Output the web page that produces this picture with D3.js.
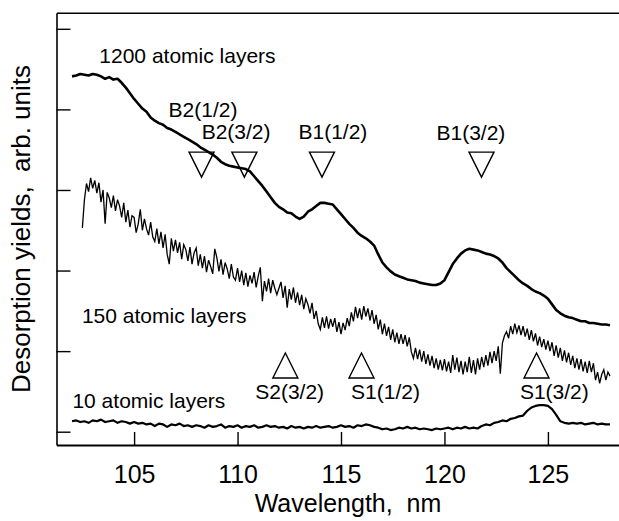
<!DOCTYPE html>
<html><head><meta charset="utf-8">
<script src="https://cdn.jsdelivr.net/npm/d3@7"></script>
<style>
html,body{margin:0;padding:0;background:#fff;}
svg{display:block;font-family:"Liberation Sans",Arial,Helvetica,sans-serif;}
</style>
</head><body>
<svg id="chart" width="619" height="521"></svg>
<script>
// ---------- data ----------
const xTicks = [105, 110, 115, 120, 125];
const yTicks = [0, 1, 2, 3, 4, 5];
const xTitle = "Wavelength,  nm";
const yTitle = "Desorption yields,  arb. units";

// wavelength grid (nm) for the 1200- and 10-layer spectra
const wlCoarse = [
102.0,102.2,102.4,102.6,102.8, 103.0,103.2,103.4,103.6,103.8,
104.0,104.2,104.4,104.6,104.8, 105.0,105.2,105.4,105.6,105.8,
106.0,106.2,106.4,106.6,106.8, 107.0,107.2,107.4,107.6,107.8,
108.0,108.2,108.4,108.6,108.8, 109.0,109.2,109.4,109.6,109.8,
110.0,110.2,110.4,110.6,110.8, 111.0,111.2,111.4,111.6,111.8,
112.0,112.2,112.4,112.6,112.8, 113.0,113.2,113.4,113.6,113.8,
114.0,114.2,114.4,114.6,114.8, 115.0,115.2,115.4,115.6,115.8,
116.0,116.2,116.4,116.6,116.8, 117.0,117.2,117.4,117.6,117.8,
118.0,118.2,118.4,118.6,118.8, 119.0,119.2,119.4,119.6,119.8,
120.0,120.2,120.4,120.6,120.8, 121.0,121.2,121.4,121.6,121.8,
122.0,122.2,122.4,122.6,122.8, 123.0,123.2,123.4,123.6,123.8,
124.0,124.2,124.4,124.6,124.8, 125.0,125.2,125.4,125.6,125.8,
126.0,126.2,126.4,126.6,126.8, 127.0,127.2,127.4,127.6,127.8,
128.0];

const layers1200 = [
4.41,4.42,4.44,4.43,4.42, 4.44,4.43,4.41,4.38,4.40,
4.37,4.38,4.33,4.27,4.20, 4.13,4.07,4.01,3.97,3.90,
3.86,3.83,3.81,3.77,3.75, 3.72,3.69,3.66,3.63,3.60,
3.57,3.53,3.50,3.47,3.44, 3.40,3.35,3.32,3.30,3.29,
3.28,3.27,3.26,3.23,3.17, 3.11,3.05,2.98,2.91,2.84,
2.79,2.76,2.72,2.71,2.67, 2.64,2.67,2.73,2.76,2.80,
2.84,2.84,2.83,2.82,2.76, 2.70,2.64,2.58,2.53,2.47,
2.43,2.40,2.36,2.31,2.20, 2.10,2.04,1.99,1.95,1.93,
1.91,1.89,1.88,1.87,1.85, 1.84,1.83,1.82,1.82,1.84,
1.88,1.98,2.08,2.15,2.21, 2.25,2.27,2.26,2.25,2.23,
2.21,2.20,2.18,2.15,2.10, 2.03,1.98,1.93,1.88,1.84,
1.81,1.77,1.74,1.72,1.69, 1.65,1.58,1.51,1.47,1.44,
1.42,1.41,1.39,1.37,1.37, 1.35,1.35,1.34,1.33,1.33,
1.32];

const layers10 = [
0.13,0.14,0.12,0.13,0.11, 0.14,0.13,0.15,0.12,0.13,
0.14,0.11,0.13,0.12,0.10, 0.12,0.10,0.11,0.09,0.10,
0.07,0.10,0.09,0.06,0.09, 0.08,0.10,0.07,0.08,0.06,
0.08,0.07,0.05,0.08,0.06, 0.07,0.09,0.05,0.07,0.06,
0.08,0.05,0.07,0.06,0.08, 0.05,0.06,0.08,0.06,0.07,
0.05,0.06,0.04,0.07,0.05, 0.06,0.04,0.06,0.05,0.07,
0.05,0.06,0.07,0.05,0.06, 0.08,0.06,0.07,0.05,0.08,
0.07,0.09,0.08,0.06,0.05, 0.03,0.04,0.02,0.03,0.05,
0.04,0.06,0.04,0.05,0.03, 0.04,0.03,0.02,0.04,0.03,
0.04,0.05,0.03,0.05,0.04, 0.06,0.04,0.05,0.04,0.07,
0.09,0.08,0.11,0.12,0.14, 0.13,0.16,0.17,0.19,0.20,
0.26,0.30,0.32,0.33,0.33, 0.32,0.28,0.21,0.13,0.11,
0.10,0.11,0.10,0.11,0.09, 0.10,0.11,0.09,0.10,0.09,
0.09];

// wavelength grid (nm) for the 150-layer spectrum
const wlFine = [
102.5,102.6,102.7,102.8,102.9,
103.0,103.1,103.2,103.3,103.4,103.5,103.6,103.7,103.8,103.9,
104.0,104.1,104.2,104.3,104.4,104.5,104.6,104.7,104.8,104.9,
105.0,105.1,105.2,105.3,105.4,105.5,105.6,105.7,105.8,105.9,
106.0,106.1,106.2,106.3,106.4,106.5,106.6,106.7,106.8,106.9,
107.0,107.1,107.2,107.3,107.4,107.5,107.6,107.7,107.8,107.9,
108.0,108.1,108.2,108.3,108.4,108.5,108.6,108.7,108.8,108.9,
109.0,109.1,109.2,109.3,109.4,109.5,109.6,109.7,109.8,109.9,
110.0,110.1,110.2,110.3,110.4,110.5,110.6,110.7,110.8,110.9,
111.0,111.1,111.2,111.3,111.4,111.5,111.6,111.7,111.8,111.9,
112.0,112.1,112.2,112.3,112.4,112.5,112.6,112.7,112.8,112.9,
113.0,113.1,113.2,113.3,113.4,113.5,113.6,113.7,113.8,113.9,
114.0,114.1,114.2,114.3,114.4,114.5,114.6,114.7,114.8,114.9,
115.0,115.1,115.2,115.3,115.4,115.5,115.6,115.7,115.8,115.9,
116.0,116.1,116.2,116.3,116.4,116.5,116.6,116.7,116.8,116.9,
117.0,117.1,117.2,117.3,117.4,117.5,117.6,117.7,117.8,117.9,
118.0,118.1,118.2,118.3,118.4,118.5,118.6,118.7,118.8,118.9,
119.0,119.1,119.2,119.3,119.4,119.5,119.6,119.7,119.8,119.9,
120.0,120.1,120.2,120.3,120.4,120.5,120.6,120.7,120.8,120.9,
121.0,121.1,121.2,121.3,121.4,121.5,121.6,121.7,121.8,121.9,
122.0,122.1,122.2,122.3,122.4,122.5,122.6,122.7,122.8,122.9,
123.0,123.1,123.2,123.3,123.4,123.5,123.6,123.7,123.8,123.9,
124.0,124.1,124.2,124.3,124.4,124.5,124.6,124.7,124.8,124.9,
125.0,125.1,125.2,125.3,125.4,125.5,125.6,125.7,125.8,125.9,
126.0,126.1,126.2,126.3,126.4,126.5,126.6,126.7,126.8,126.9,
127.0,127.1,127.2,127.3,127.4,127.5,127.6,127.7,127.8,127.9,
128.0];

const layers150 = [
2.53,2.88,3.08,2.98,3.15,
3.02,3.12,2.96,3.09,2.85,3.00,2.58,2.97,2.90,2.78,
2.93,2.74,2.88,2.80,2.66,2.84,2.60,2.75,2.54,2.68,
2.66,2.47,2.58,2.76,2.50,2.64,2.52,2.44,2.60,2.42,
2.36,2.52,2.33,2.48,2.28,2.45,2.20,2.08,2.40,2.24,
2.38,2.22,2.35,2.14,2.32,2.26,2.12,2.29,2.08,2.22,
2.28,2.06,2.20,2.03,2.18,1.98,2.13,2.05,1.96,2.27,
2.16,1.99,2.14,1.95,2.10,2.02,1.90,2.08,1.92,1.88,
2.03,1.86,2.00,1.82,1.97,1.80,1.94,1.84,1.98,1.79,
1.93,2.04,1.62,1.87,1.74,1.90,1.72,1.88,1.78,1.70,
1.78,1.86,1.66,1.81,1.54,1.77,1.64,1.79,1.60,1.73,
1.57,1.70,1.52,1.65,1.58,1.47,1.60,1.40,1.50,1.34,
1.27,1.42,1.29,1.43,1.28,1.40,1.30,1.41,1.24,1.36,
1.21,1.35,1.26,1.41,1.31,1.48,1.37,1.55,1.41,1.53,
1.39,1.56,1.43,1.53,1.38,1.51,1.34,1.45,1.27,1.39,
1.21,1.34,1.19,1.30,1.14,1.27,1.11,1.23,1.09,1.21,
1.09,1.20,1.06,1.17,0.99,0.91,1.04,0.90,1.02,0.87,
1.00,0.84,0.96,0.82,0.94,0.79,0.91,0.77,0.89,0.76,
0.90,0.75,0.87,0.73,0.95,0.77,0.92,0.74,0.88,0.71,
0.87,0.74,0.93,0.73,0.89,0.71,0.91,0.77,0.93,0.80,
0.95,0.82,0.99,0.85,1.00,0.88,1.06,0.72,1.10,1.19,
1.24,1.16,1.31,1.21,1.34,1.23,1.32,1.20,1.31,1.18,
1.28,1.14,1.26,1.12,1.22,1.07,1.18,1.05,1.15,1.02,
1.13,1.00,1.11,0.94,1.07,0.92,1.04,0.88,1.01,0.86,
0.98,0.83,0.94,0.79,0.91,0.77,0.90,0.75,0.87,0.73,
0.88,0.74,0.85,0.64,0.74,0.60,0.71,0.77,0.64,0.74,
0.69];

// curve labels
const layerLabels = ["1200 atomic layers", "150 atomic layers", "10 atomic layers"];
const layerLabelWl = [103.32, 102.48, 102.02];
const layerLabelLevel = [4.57, 1.345, 0.294];

// bulk exciton marks (down triangles)
const bulkPeaks = ["B2(1/2)", "B2(3/2)", "B1(1/2)", "B1(3/2)"];
const bulkPeakWl = [108.26, 110.33, 114.08, 121.79];
const bulkLabelWl = [108.33, 109.93, 114.61, 121.28];
const bulkLabelLevel = [3.90, 3.63, 3.63, 3.62];
const bulkMarkLevel = 3.47;

// surface exciton marks (up triangles)
const surfPeaks = ["S2(3/2)", "S1(1/2)", "S1(3/2)"];
const surfPeakWl = [112.31, 115.99, 124.45];
const surfLabelWl = [112.52, 117.15, 125.31];
const surfLabelLevel = 0.41;
const surfMarkLevel = 0.976;

// ---------- drawing ----------
const svg = d3.select("#chart");
const x = d3.scaleLinear().domain([101.25, 128.45]).range([56.5, 619.3]);
const y = d3.scaleLinear().domain([-0.165, 5.2]).range([445, 12.7]);

const FONT = '"Liberation Sans", Arial, Helvetica, sans-serif';

// bottom axis
const gx = svg.append("g")
  .attr("transform", `translate(0,${y(-0.165)})`)
  .call(d3.axisBottom(x).tickValues(xTicks).tickSizeInner(-13).tickSizeOuter(0).tickFormat(d3.format("d")));
gx.attr("font-family", FONT).attr("font-size", null);
gx.select(".domain").attr("stroke", "#000").attr("stroke-width", 1.8);
gx.selectAll(".tick line").attr("stroke", "#000").attr("stroke-width", 1.4);
gx.selectAll(".tick text").attr("y", 38.3).attr("dy", null)
  .attr("font-size", 25).attr("fill", "#000");

// top frame line
const gt = svg.append("g")
  .attr("transform", `translate(0,${y(5.2)})`)
  .call(d3.axisTop(x).tickValues([]).tickSizeOuter(0));
gt.select(".domain").attr("stroke", "#000").attr("stroke-width", 1.6);

// left axis
const gy = svg.append("g")
  .attr("transform", `translate(${x(101.25)},0)`)
  .call(d3.axisLeft(y).tickValues(yTicks).tickSizeInner(-14).tickSizeOuter(0).tickFormat(""));
gy.select(".domain").attr("stroke", "#000").attr("stroke-width", 1.6);
gy.selectAll(".tick line").attr("stroke", "#000").attr("stroke-width", 1.4);

// curves
const line = d3.line().x(d => x(d[0])).y(d => y(d[1]));
const zip = (a, b) => a.map((v, i) => [v, b[i]]);

svg.append("path").datum(zip(wlCoarse, layers1200))
  .attr("d", line).attr("fill", "none").attr("stroke", "#000")
  .attr("stroke-width", 2.6).attr("stroke-linejoin", "round");
svg.append("path").datum(zip(wlFine, layers150))
  .attr("d", line).attr("fill", "none").attr("stroke", "#000")
  .attr("stroke-width", 1.3).attr("stroke-linejoin", "miter");
svg.append("path").datum(zip(wlCoarse, layers10))
  .attr("d", line).attr("fill", "none").attr("stroke", "#000")
  .attr("stroke-width", 2.2).attr("stroke-linejoin", "round");

// triangles
const halfW = 12.5, triH = 25;
svg.selectAll(".bulkTri").data(bulkPeakWl).enter().append("path")
  .attr("class", "bulkTri")
  .attr("d", d => { const cx = x(d), t = y(bulkMarkLevel);
    return `M${cx - halfW},${t}L${cx + halfW},${t}L${cx},${t + triH}Z`; })
  .attr("fill", "none").attr("stroke", "#000").attr("stroke-width", 1.4);
svg.selectAll(".surfTri").data(surfPeakWl).enter().append("path")
  .attr("class", "surfTri")
  .attr("d", d => { const cx = x(d), t = y(surfMarkLevel);
    return `M${cx},${t}L${cx + halfW},${t + triH}L${cx - halfW},${t + triH}Z`; })
  .attr("fill", "none").attr("stroke", "#000").attr("stroke-width", 1.4);

// annotation texts
const annFont = 21;
svg.selectAll(".layerLab").data(layerLabels).enter().append("text")
  .attr("x", (d, i) => x(layerLabelWl[i])).attr("y", (d, i) => y(layerLabelLevel[i]))
  .attr("font-size", annFont).attr("font-family", FONT).attr("fill", "#000")
  .text(d => d);
svg.selectAll(".bulkLab").data(bulkPeaks).enter().append("text")
  .attr("x", (d, i) => x(bulkLabelWl[i])).attr("y", (d, i) => y(bulkLabelLevel[i]))
  .attr("text-anchor", "middle")
  .attr("font-size", annFont).attr("font-family", FONT).attr("fill", "#000")
  .text(d => d);
svg.selectAll(".surfLab").data(surfPeaks).enter().append("text")
  .attr("x", (d, i) => x(surfLabelWl[i])).attr("y", y(surfLabelLevel))
  .attr("text-anchor", "middle")
  .attr("font-size", annFont).attr("font-family", FONT).attr("fill", "#000")
  .text(d => d);

// axis titles
svg.append("text")
  .attr("x", 348).attr("y", 512)
  .attr("text-anchor", "middle").attr("font-size", 25).attr("font-family", FONT)
  .style("white-space", "pre").attr("fill", "#000")
  .text(xTitle);
svg.append("text")
  .attr("transform", "translate(30,229) rotate(-90)")
  .attr("text-anchor", "middle").attr("font-size", 26).attr("font-family", FONT)
  .style("white-space", "pre").attr("fill", "#000")
  .text(yTitle);
</script>
</body></html>
